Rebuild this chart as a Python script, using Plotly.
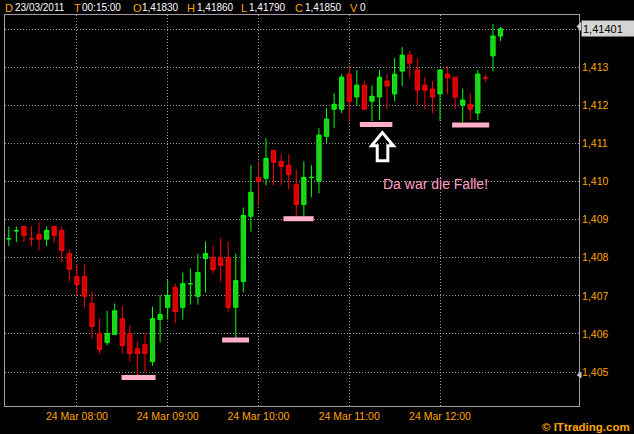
import plotly.graph_objects as go

# ---- data (5-minute candles, 24 Mar 2011 07:15 .. 12:40) ----
opens = [1.40850, 1.40871, 1.40882, 1.40850, 1.40861, 1.40849, 1.40882, 1.40872, 1.40811, 1.40751,
         1.40751, 1.40680, 1.40601, 1.40578, 1.40599, 1.40640, 1.40601, 1.40561, 1.40572, 1.40528,
         1.40638, 1.40670, 1.40722, 1.40670, 1.40732, 1.40699, 1.40798, 1.40801, 1.40801, 1.40801,
         1.40670, 1.40738, 1.40909, 1.41011, 1.41009, 1.41082, 1.41053, 1.41043, 1.40993, 1.40940,
         1.41011, 1.41001, 1.41119, 1.41190, 1.41190, 1.41282, 1.41222, 1.41253, 1.41211, 1.41222,
         1.41264, 1.41230, 1.41290, 1.41332, 1.41293, 1.41253, 1.41243, 1.41230, 1.41282, 1.41274,
         1.41201, 1.41203, 1.41180, 1.41272, 1.41330, 1.41382]
highs = [1.40882, 1.40882, 1.40882, 1.40882, 1.40893, 1.40882, 1.40882, 1.40882, 1.40822, 1.40782,
         1.40782, 1.40711, 1.40640, 1.40661, 1.40680, 1.40672, 1.40622, 1.40580, 1.40601, 1.40672,
         1.40701, 1.40743, 1.40732, 1.40761, 1.40772, 1.40811, 1.40843, 1.40832, 1.40851, 1.40843,
         1.40811, 1.40932, 1.41043, 1.41053, 1.41114, 1.41082, 1.41072, 1.41072, 1.41032, 1.41053,
         1.41043, 1.41140, 1.41193, 1.41232, 1.41282, 1.41303, 1.41293, 1.41264, 1.41253, 1.41293,
         1.41282, 1.41324, 1.41353, 1.41343, 1.41324, 1.41274, 1.41264, 1.41293, 1.41303, 1.41274,
         1.41243, 1.41232, 1.41293, 1.41282, 1.41414, 1.41406]
lows = [1.40831, 1.40841, 1.40841, 1.40831, 1.40820, 1.40831, 1.40841, 1.40788, 1.40738, 1.40699,
        1.40670, 1.40588, 1.40549, 1.40570, 1.40599, 1.40549, 1.40528, 1.40491, 1.40499, 1.40517,
        1.40578, 1.40638, 1.40628, 1.40638, 1.40677, 1.40677, 1.40709, 1.40759, 1.40738, 1.40659,
        1.40589, 1.40709, 1.40869, 1.40938, 1.40990, 1.40990, 1.40990, 1.40980, 1.40909, 1.40909,
        1.40959, 1.40969, 1.41101, 1.41140, 1.41180, 1.41159, 1.41201, 1.41190, 1.41159, 1.41161,
        1.41190, 1.41211, 1.41251, 1.41272, 1.41201, 1.41190, 1.41180, 1.41159, 1.41230, 1.41190,
        1.41156, 1.41161, 1.41161, 1.41261, 1.41290, 1.41369]
closes = [1.40850, 1.40871, 1.40859, 1.40850, 1.40849, 1.40872, 1.40859, 1.40819, 1.40770, 1.40730,
          1.40699, 1.40620, 1.40559, 1.40601, 1.40661, 1.40570, 1.40549, 1.40549, 1.40549, 1.40640,
          1.40651, 1.40701, 1.40659, 1.40732, 1.40732, 1.40761, 1.40811, 1.40769, 1.40780, 1.40670,
          1.40740, 1.40911, 1.40972, 1.41001, 1.41061, 1.41051, 1.41040, 1.41019, 1.40940, 1.41011,
          1.41011, 1.41122, 1.41164, 1.41203, 1.41274, 1.41211, 1.41253, 1.41190, 1.41224, 1.41274,
          1.41251, 1.41282, 1.41332, 1.41311, 1.41240, 1.41240, 1.41222, 1.41293, 1.41272, 1.41222,
          1.41214, 1.41190, 1.41282, 1.41272, 1.41382, 1.41401]
x_idx = list(range(len(opens)))

x_tick_pos = [9, 21, 33, 45, 57]
x_tick_labels = ["24 Mar 08:00", "24 Mar 09:00", "24 Mar 10:00", "24 Mar 11:00", "24 Mar 12:00"]
y_ticks = [1.405, 1.406, 1.407, 1.408, 1.409, 1.410, 1.411, 1.412, 1.413, 1.414]
y_tick_labels = ["1,405", "1,406", "1,407", "1,408", "1,409", "1,410", "1,411", "1,412", "1,413", ""]

# pink "trap" markers: (first candle, last candle, price level)
trap_start = [14.9, 28.2, 36.3, 46.4, 58.6]
trap_end = [19.4, 31.75, 40.3, 50.7, 63.5]
trap_level = [1.40486, 1.405843, 1.409026, 1.411499, 1.411485]

header_keys = ["D", "T", "O", "H", "L", "C", "V"]
header_vals = ["23/03/2011", "00:15:00", "1,41830", "1,41860", "1,41790", "1,41850", "0"]
last_price_label = "1,41401"
note_text = "Da war die Falle!"

# ---- layout helpers (pixel -> paper) ----
L_M, R_M, T_M, B_M = 5, 55, 15, 28
W, H = 634, 434
PW, PH = W - L_M - R_M, H - T_M - B_M


def pxx(px):
    return (px - L_M) / PW


def pxy(py):
    return (H - B_M - py) / PH


ORANGE = "#ffa500"
PINK = "#ffafc9"

fig = go.Figure()
fig.add_trace(go.Candlestick(
    x=x_idx, open=opens, high=highs, low=lows, close=closes,
    increasing=dict(line=dict(color="#00ff00", width=1), fillcolor="#22cc22"),
    decreasing=dict(line=dict(color="#ff0000", width=1), fillcolor="#d40000"),
    hoverinfo="skip", showlegend=False,
))

shapes = []
for a, b, lv in zip(trap_start, trap_end, trap_level):
    shapes.append(dict(type="line", xref="x", yref="y", x0=a, x1=b, y0=lv, y1=lv,
                       line=dict(color=PINK, width=5)))

# hollow white up-arrow under the 4th trap marker
shapes.append(dict(type="path", xref="x", yref="y",
                   path="M 48.70,1.410546 L 50.10,1.410546 L 50.10,1.410940 L 50.85,1.410940 "
                        "L 49.37,1.411289 L 47.95,1.410940 L 48.70,1.410940 Z",
                   line=dict(color="white", width=3), fillcolor="rgba(0,0,0,0)"))

# small pointers on the price scale
shapes.append(dict(type="path", xref="paper", yref="paper",
                   path=f"M {pxx(576.5)},{pxy(26.5)} L {pxx(581)},{pxy(22)} L {pxx(581)},{pxy(31)} Z",
                   line=dict(width=0), fillcolor="#d0d0d0"))
shapes.append(dict(type="path", xref="paper", yref="paper",
                   path=f"M {pxx(576.5)},{pxy(375)} L {pxx(581.5)},{pxy(371.5)} L {pxx(581.5)},{pxy(378.5)} Z",
                   line=dict(width=0), fillcolor="#c8c8c8"))

annotations = []
key_x = [4, 73, 132, 186, 240, 294, 349]
val_x = [13.5, 80.5, 141, 196, 248, 303.5, 359]
for k, v, kx, vx in zip(header_keys, header_vals, key_x, val_x):
    annotations.append(dict(xref="paper", yref="paper", x=pxx(kx), y=pxy(7.5), xanchor="left",
                            yanchor="middle", text=k, showarrow=False, borderpad=0,
                            font=dict(family="Liberation Sans, Arial", size=11, color=ORANGE)))
    annotations.append(dict(xref="paper", yref="paper", x=pxx(vx), y=pxy(7.5), xanchor="left",
                            yanchor="middle", text=v, showarrow=False, borderpad=0,
                            font=dict(family="Liberation Sans, Arial", size=10, color="white")))

annotations.append(dict(xref="paper", yref="y", x=pxx(581), y=closes[-1], xanchor="left",
                        yanchor="middle", text=last_price_label, showarrow=False,
                        bgcolor="#d4d4d4", borderpad=1, width=55, height=13, align="left",
                        font=dict(family="Liberation Sans, Arial", size=11, color="black")))

annotations.append(dict(xref="x", yref="y", x=56.4, y=1.409937, text=note_text, showarrow=False,
                        xanchor="center", yanchor="middle",
                        font=dict(family="Liberation Sans, Arial", size=14, color="#ff9fc4")))

annotations.append(dict(xref="paper", yref="paper", x=pxx(632), y=pxy(426.5), xanchor="right",
                        yanchor="middle", text="<b>© ITtrading.com</b>", showarrow=False,
                        font=dict(family="Liberation Sans, Arial", size=11.5, color=ORANGE)))

GRID = dict(gridcolor="#9a9a9a", griddash="1px,2px", gridwidth=1)

fig.update_layout(
    width=W, height=H,
    margin=dict(l=L_M, r=R_M, t=T_M, b=B_M),
    paper_bgcolor="black", plot_bgcolor="black",
    separators=",.",
    boxgap=0.2,
    shapes=shapes, annotations=annotations,
    hovermode=False,
    xaxis=dict(range=[-0.502, 75.37], rangeslider=dict(visible=False), tickmode="array",
               tickvals=x_tick_pos, ticktext=x_tick_labels, showgrid=True, **GRID,
               zeroline=False, showline=True, linecolor="#a898a8", linewidth=1, mirror=True,
               ticks="", tickfont=dict(family="Liberation Sans, Arial", size=10.5, color=ORANGE)),
    yaxis=dict(range=[1.40411, 1.414373], side="right", tickmode="array", tickvals=y_ticks,
               ticktext=y_tick_labels, showgrid=True, **GRID, zeroline=False, showline=True,
               linecolor="#a898a8", linewidth=1, mirror=True, ticks="",
               tickfont=dict(family="Liberation Sans, Arial", size=10.5, color=ORANGE)),
)

fig.write_html("out.html", config={"displayModeBar": False},
               post_script="document.body.style.margin='0';document.body.style.background='black';")
